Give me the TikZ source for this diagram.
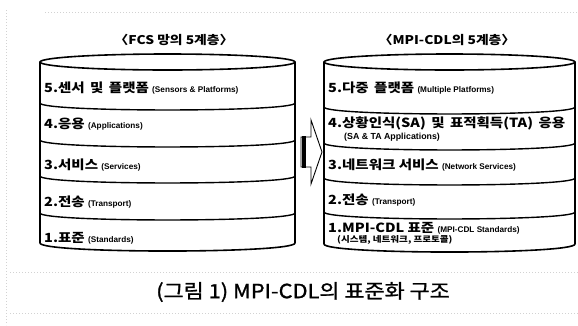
\documentclass[tikz,border=0pt]{standalone}
\usepackage{fontspec}
\setmainfont{Noto Sans CJK KR}
\newfontfamily\krw[FakeStretch=1.15]{Noto Sans CJK KR}
\newfontfamily\krcap[FakeStretch=1.12,FakeBold=1.2]{Noto Sans CJK KR}
\newfontfamily\engfont{Liberation Sans}
\tikzset{
  cyl/.style={line width=1.6pt, line join=round, line cap=round},
  bnd/.style={line width=1.4pt},
  layer/.style={anchor=west, inner sep=0pt, font=\krw\fontsize{12.6}{13}\selectfont\bfseries},
  ttl/.style={inner sep=0pt, font=\krw\fontsize{12}{13}\selectfont\bfseries},
  speck/.style={gray!35, line width=0.9pt, dash pattern=on 0.6pt off 2.4pt}
}
\newcommand{\eng}[1]{{\engfont\fontsize{8.2}{9}\selectfont\bfseries #1}}
\begin{document}
\begin{tikzpicture}[x=1pt,y=-1pt]
\useasboundingbox (0,0) rectangle (578,325);
% scan speckle traces
\draw[speck] (45,12) -- (578,12);
\draw[speck] (6,10) -- (6,325);
\draw[speck] (10,272) -- (578,272);
\draw[speck] (10,313) -- (578,313);
% titles
\node[ttl] (t1) at (174,40) {〈FCS 망의 5계층〉};
\node[ttl] (t2) at (447,40) {〈MPI-CDL의 5계층〉};
% left cylinder
\draw[cyl] (167.5,62) ellipse [x radius=127.5, y radius=8];
\draw[cyl] (40,62) -- (40,243) .. controls (40,253.7) and (295,253.7) .. (295,243) -- (295,62);
\foreach \b in {103,140,176,213}
  \draw[bnd] (40,\b) .. controls (40,\b+9.3) and (295,\b+9.3) .. (295,\b);
% right cylinder
\draw[cyl] (449.5,62) ellipse [x radius=125.5, y radius=8];
\draw[cyl] (324,62) -- (324,244) .. controls (324,254.7) and (575,254.7) .. (575,244) -- (575,62);
\foreach \b in {107,143,178,212}
  \draw[bnd] (324,\b) .. controls (324,\b+9.3) and (575,\b+9.3) .. (575,\b);
% left texts
\node[layer] (l5) at (44,88) {5.센서\, 및\, 플랫폼 \eng{(Sensors \& Platforms)}};
\node[layer] (l4) at (44,124) {4.응용 \eng{(Applications)}};
\node[layer] (l3) at (44,165) {3.서비스 \eng{(Services)}};
\node[layer] (l2) at (44,202) {2.전송 \eng{(Transport)}};
\node[layer] (l1) at (44,238) {1.표준 \eng{(Standards)}};
% right texts
\node[layer] (r5) at (328,88) {5.다중\, 플랫폼 \eng{(Multiple Platforms)}};
\node[layer] (r4) at (328,123) {4.상황인식(SA)\, 및\, 표적획득(TA)\, 응용};
\node[anchor=west, inner sep=0pt, font=\engfont\fontsize{8.8}{9}\selectfont\bfseries] (r4b) at (344,137) {(SA \& TA Applications)};
\node[layer] (r3) at (328,165) {3.네트워크 서비스 \eng{(Network Services)}};
\node[layer] (r2) at (328,200) {2.전송 \eng{(Transport)}};
\node[layer] (r1) at (328,228) {1.MPI-CDL 표준 \eng{(MPI-CDL Standards)}};
\node[anchor=west, inner sep=0pt, font=\krw\fontsize{8.3}{9}\selectfont\bfseries] (r1b) at (337,240) {(시스템, 네트워크, 프로토콜)};
% arrow
\draw[line width=0.9pt, fill=white, line join=miter] (301,137) -- (311,137) -- (311,120) -- (322,152) -- (311,184) -- (311,167) -- (301,167) -- cycle;
\draw[line width=4pt] (303.5,136) -- (303.5,168);
% caption
\node[inner sep=0pt, font=\krcap\fontsize{19.5}{21}\selectfont] (cap) at (303,292) {(그림 1) MPI-CDL의 표준화 구조};
\end{tikzpicture}
\end{document}
